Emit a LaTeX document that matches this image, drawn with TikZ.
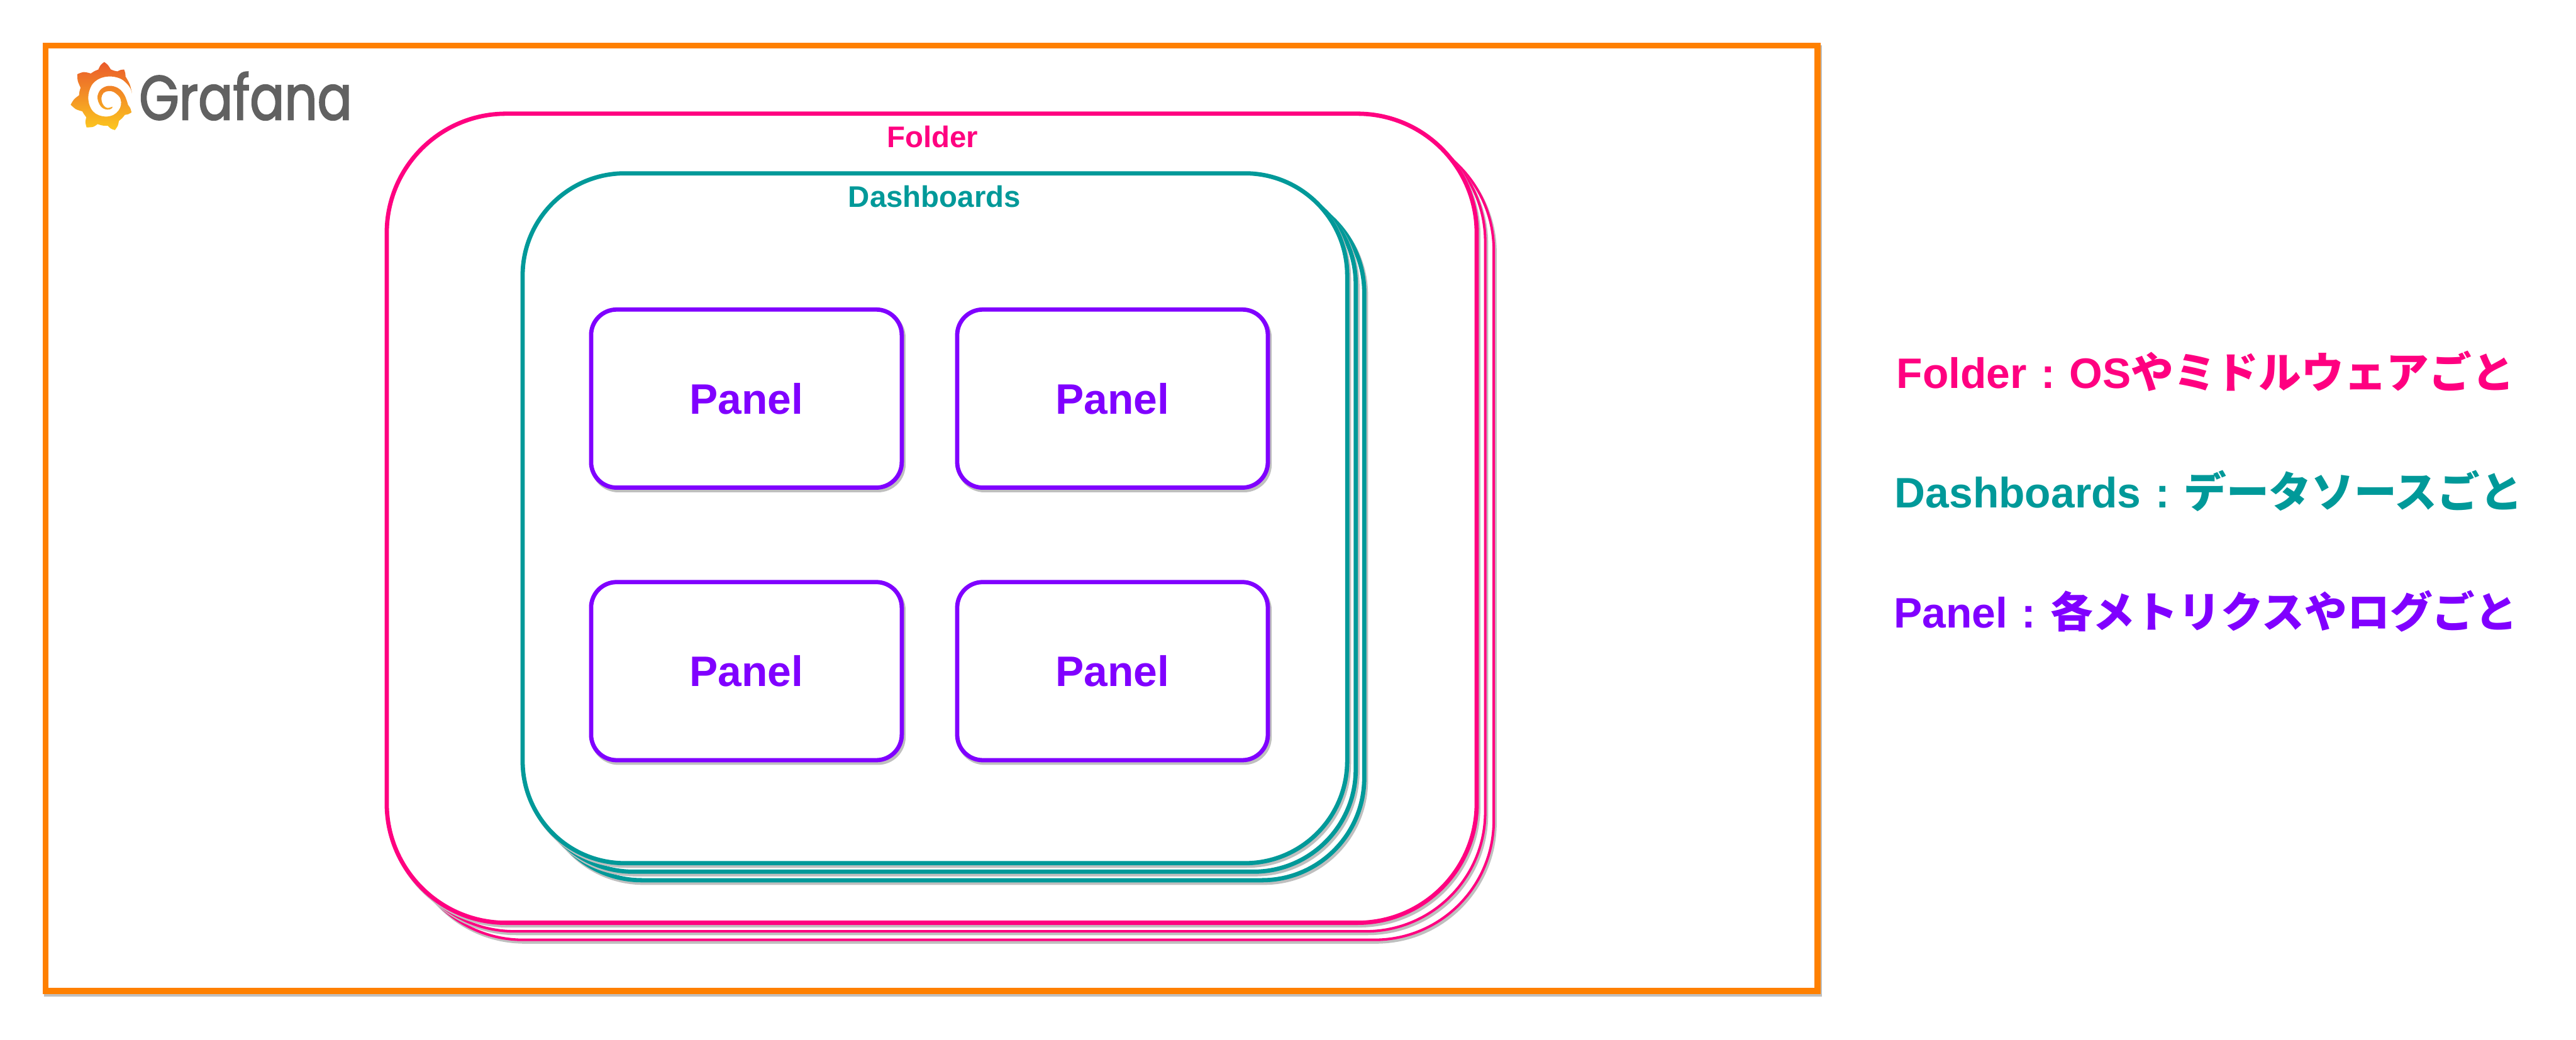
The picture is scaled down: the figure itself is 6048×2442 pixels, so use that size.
\documentclass[tikz,border=0pt]{standalone}
\usepackage{fontspec}
\setmainfont{Liberation Sans}
\newfontfamily\jpfont{Noto Sans CJK JP}
\newfontfamily\logofont[FakeStretch=0.82,FakeBold=2]{Poppins}
\definecolor{folderpink}{HTML}{FF0080}
\definecolor{dashteal}{HTML}{009999}
\definecolor{panelviolet}{HTML}{8000FF}
\definecolor{frameorange}{HTML}{FF8000}
\definecolor{shadowgray}{HTML}{BFBFBF}
\definecolor{logogray}{HTML}{616161}
\definecolor{sunred}{HTML}{EA5A2B}
\definecolor{sunmid}{HTML}{F2902A}
\definecolor{sunyellow}{HTML}{FCC81F}
\newcommand{\keycolon}{\makebox[1em]{:}}
\begin{document}
\begin{tikzpicture}[x=0.01cm,y=-0.01cm,
  panelbox/.style={draw=panelviolet,fill=white,line width=0.1cm,rounded corners=0.6cm,
    minimum width=7.29cm,minimum height=4.18cm,inner sep=0pt},
  panelshadow/.style={panelbox,draw=shadowgray,fill=shadowgray},
  bigtext/.style={font=\fontsize{28.45}{30}\selectfont\bfseries,inner sep=0pt},
  smalltext/.style={font=\fontsize{19.9}{22}\selectfont\bfseries,inner sep=0pt,anchor=base}]
\useasboundingbox (0,0) rectangle (6048,2442);
% outer frame
\draw[shadowgray,line width=0.14cm] (111,113) rectangle (4271,2333);
\draw[frameorange,fill=white,line width=0.14cm] (107,107) rectangle (4267,2327);
% logo
\begin{scope}[shift={(150,130)},x=0.00333cm,y=-0.00333cm]
\shade[top color=sunred,middle color=sunmid,bottom color=sunyellow,shading angle=0]
  plot[smooth,tension=.6] coordinates {(285,47) (310,68) (330,98)}
  -- plot[smooth,tension=.6] coordinates {(330,98) (350,107) (378,113)}
  -- plot[smooth,tension=.6] coordinates {(378,113) (400,103) (425,100)}
  -- plot[smooth,tension=.6] coordinates {(425,100) (433,125) (435,150)}
  -- plot[smooth,tension=.6] coordinates {(435,150) (465,205) (483,278)}
  -- plot[smooth,tension=.6] coordinates {(483,278) (470,235) (440,195) (400,165) (345,150) (290,152)
    (240,170) (200,205) (178,255) (172,300) (180,350) (205,395) (245,422) (300,432) (350,420)
    (385,390) (403,350) (400,310) (385,285) (350,258) (315,252) (280,265) (265,300) (272,340)
    (295,367) (320,370) (342,362)}
  -- plot[smooth,tension=.6] coordinates {(342,362) (340,372) (320,382) (290,380) (262,362) (242,325)
    (238,285) (258,243) (300,218) (350,218) (395,240) (430,285) (453,350)}
  -- plot[smooth,tension=.6] coordinates {(453,350) (468,372) (477,402)}
  -- plot[smooth,tension=.6] coordinates {(477,402) (455,415) (430,420)}
  -- plot[smooth,tension=.6] coordinates {(430,420) (412,442) (388,463)}
  -- plot[smooth,tension=.6] coordinates {(388,463) (380,497) (360,527)}
  -- plot[smooth,tension=.6] coordinates {(360,527) (332,517) (310,497)}
  -- plot[smooth,tension=.6] coordinates {(310,497) (272,495) (238,485)}
  -- plot[smooth,tension=.6] coordinates {(238,485) (205,505) (160,508)}
  -- plot[smooth,tension=.6] coordinates {(160,508) (152,472) (158,437)}
  -- plot[smooth,tension=.6] coordinates {(158,437) (142,415) (130,395)}
  -- plot[smooth,tension=.6] coordinates {(130,395) (85,380) (48,348)}
  -- plot[smooth,tension=.6] coordinates {(48,348) (72,310) (107,282)}
  -- plot[smooth,tension=.6] coordinates {(107,282) (110,255) (118,228)}
  -- plot[smooth,tension=.6] coordinates {(118,228) (98,180) (95,133)}
  -- plot[smooth,tension=.6] coordinates {(95,133) (140,118) (190,128)}
  -- plot[smooth,tension=.6] coordinates {(190,128) (215,112) (243,100)}
  -- plot[smooth,tension=.6] coordinates {(243,100) (260,68) (285,47)} -- cycle;
\end{scope}
\node[font=\logofont\fontsize{41.8}{44}\selectfont,text=logogray,anchor=base west,inner sep=0pt]
  (logotext) at (326,281) {Grafana};
% folder stack
\foreach \off/\wd in {40/0.06cm,20/0.06cm,0/0.1cm}{
  \draw[shadowgray,fill=shadowgray,line width=\wd,rounded corners=2.8cm]
    (912+\off,273+\off) rectangle (3471+\off,2173+\off);
  \draw[folderpink,fill=white,line width=\wd,rounded corners=2.8cm]
    (908+\off,267+\off) rectangle (3467+\off,2167+\off);
}
\node[smalltext,text=folderpink] (folderlabel) at (2189,346) {Folder};
% dashboard stack
\foreach \off in {40,20,0}{
  \draw[shadowgray,fill=shadowgray,line width=0.1cm,rounded corners=2.4cm]
    (1231+\off,413+\off) rectangle (3167+\off,2033+\off);
  \draw[dashteal,fill=white,line width=0.1cm,rounded corners=2.4cm]
    (1227+\off,407+\off) rectangle (3163+\off,2027+\off);
}
\node[smalltext,text=dashteal] (dashlabel) at (2194,486) {Dashboards};
% panels
\foreach \nm/\cx/\cy in {paneltl/1752.5/936,paneltr/2612/936,panelbl/1752.5/1576,panelbr/2612/1576}{
  \node[panelshadow] (\nm-shadow) at (\cx+4,\cy+6) {};
  \node[panelbox,text=panelviolet,font=\fontsize{28.45}{30}\selectfont\bfseries] (\nm) at (\cx,\cy) {Panel};
}
% key on the right
\node[bigtext,text=folderpink,anchor=base west] (keyfolder) at (4452,912)
  {Folder\keycolon OS{\jpfont やミドルウェアごと}};
\node[bigtext,text=dashteal,anchor=base west] (keydash) at (4448,1192)
  {Dashboards\keycolon{\jpfont データソースごと}};
\node[bigtext,text=panelviolet,anchor=base west] (keypanel) at (4446,1474)
  {Panel\keycolon{\jpfont 各メトリクスやログごと}};
\end{tikzpicture}
\end{document}
